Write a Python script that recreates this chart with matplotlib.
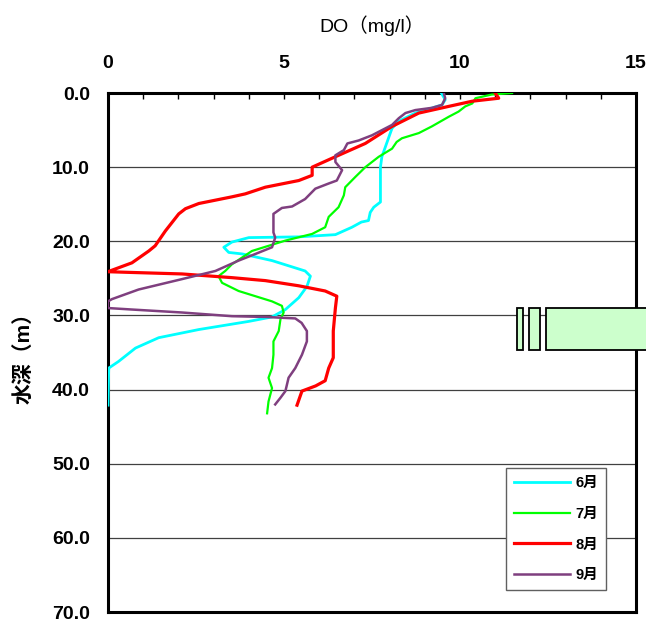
import matplotlib
matplotlib.use("Agg")
import matplotlib.pyplot as plt
from matplotlib.patches import Rectangle
from matplotlib.ticker import MultipleLocator

plt.rcParams['font.family'] = ['Liberation Sans', 'Noto Sans CJK JP', 'DejaVu Sans']

# ---- data ----
jun_depth = [0, 0.9, 1.6, 2.7, 3.8, 4.75, 5.4, 8.6, 10, 11.8, 14.7, 15.4, 16.1, 17.2, 17.4, 18.1,
             19.1, 19.4, 19.5, 20.1, 20.8, 21.5, 21.7, 22.6, 24.0, 24.7, 26.1, 27.6, 29.2, 30.2,
             30.8, 31.9, 33.0, 34.4, 36.2, 37.1, 42.1]
jun_do = [9.47, 9.58, 9.49, 8.73, 8.26, 8.07, 8.02, 7.78, 7.74, 7.74, 7.74, 7.55, 7.45, 7.40, 7.20, 6.93,
          6.46, 5.42, 4.00, 3.52, 3.29, 3.43, 3.81, 4.66, 5.60, 5.75, 5.65, 5.42, 5.04, 4.66,
          4.00, 2.58, 1.44, 0.78, 0.30, 0.02, 0.0]

jul_depth = [0, 0.2, 0.7, 1.4, 1.8, 2.5, 3.2, 4.5, 5.4, 6.1, 6.6, 7.5, 8.6, 10, 11.3, 12.7, 13.8,
             15.4, 16.7, 18.1, 19.0, 19.9, 21.3, 23.1, 24.0, 24.7, 25.6, 26.7, 28.1, 28.7, 29.6,
             30.5, 32.1, 33.5, 35.3, 37.1, 38.4, 39.8, 41.6, 43.2]
jul_do = [11.48, 10.9, 10.44, 10.35, 10.15, 9.96, 9.68, 9.2, 8.83, 8.35, 8.2, 8.07, 7.69, 7.31, 7.03,
          6.74, 6.70, 6.55, 6.27, 6.17, 5.80, 5.04, 4.09, 3.52, 3.33, 3.14, 3.24, 3.71, 4.66, 4.94,
          4.99, 4.90, 4.85, 4.70, 4.70, 4.66, 4.56, 4.66, 4.56, 4.52]

aug_depth = [0, 0.7, 1.1, 1.8, 2.7, 4.5, 6.8, 8.4, 10, 11.1, 11.8, 12.7, 13.6, 14.0, 14.9, 15.6,
             16.3, 18.6, 20.6, 21.3, 22.9, 23.9, 24.1, 24.2, 24.4, 24.9, 25.3, 26.0, 26.7, 27.4,
             29.0, 32.1, 35.7, 37.1, 38.8, 39.5, 40.2, 42.1]
aug_do = [11.0, 11.1, 10.35, 9.68, 8.83, 8.07, 7.31, 6.55, 5.80, 5.80, 5.42, 4.47, 3.90, 3.52, 2.58,
          2.20, 2.01, 1.63, 1.34, 1.16, 0.68, 0.11, 0.0, 0.68, 2.10, 3.52, 4.47, 5.42, 6.17, 6.50,
          6.46, 6.40, 6.40, 6.27, 6.17, 5.90, 5.51, 5.37]

sep_depth = [0, 0.7, 1.6, 2.0, 2.3, 2.7, 3.4, 4.3, 5.7, 6.4, 6.8, 7.7, 8.4, 9.3, 10.4, 11.8, 12.2,
             12.9, 14.3, 15.3, 15.5, 16.3, 18.8, 19.5, 20.8, 21.7, 22.6, 24.0, 25.1, 26.5, 27.8,
             28.1, 29.0, 29.2, 29.6, 30.1, 30.2, 30.4, 31.0, 32.1, 33.5, 35.3, 37.1, 38.4, 40.2,
             41.1, 42.0]
sep_do = [9.54, 9.58, 9.49, 9.20, 8.73, 8.45, 8.26, 8.07, 7.50, 7.12, 6.80, 6.70, 6.46, 6.46, 6.65,
          6.50, 6.27, 5.89, 5.60, 5.23, 4.94, 4.70, 4.70, 4.75, 4.66, 4.19, 3.71, 3.05, 2.10, 0.87,
          0.11, 0.0, 0.0, 0.68, 2.10, 3.52, 4.47, 5.32, 5.50, 5.65, 5.65, 5.51, 5.32, 5.13, 5.04,
          4.90, 4.75]

months = ['6月', '7月', '8月', '9月']
colors = ['#00ffff', '#00ff00', '#ff0000', '#7f3f7f']
widths = [2.0, 1.6, 2.3, 1.8]

x_ticks = [0, 5, 10, 15]
y_ticks = [0, 10, 20, 30, 40, 50, 60, 70]

# structure box (depth range and DO ranges)
box_top, box_bottom = 29.0, 34.6
box_x = [(11.63, 11.80), (11.95, 12.27), (12.45, 15.5)]

fig = plt.figure(figsize=(6.46, 6.24), dpi=100)
ax = fig.add_axes([0.1672, 0.0192, 0.8173, 0.8317])

series = [(jun_do, jun_depth), (jul_do, jul_depth), (aug_do, aug_depth), (sep_do, sep_depth)]
for (dv, dp), m, c, w in zip(series, months, colors, widths):
    ax.plot(dv, dp, color=c, lw=w, label=m, zorder=3)

ax.set_xlim(0, 15)
ax.set_ylim(70, 0)
ax.xaxis.tick_top()
ax.xaxis.set_label_position('top')
ax.set_xticks(x_ticks)
ax.set_xticklabels([str(v) for v in x_ticks], fontsize=14, fontweight='bold')
ax.xaxis.set_minor_locator(MultipleLocator(1))
ax.tick_params(axis='x', which='both', direction='in', length=4, width=1, pad=15, top=True, bottom=False)
ax.set_yticks(y_ticks)
ax.set_yticklabels([f"{v:.1f}" for v in y_ticks], fontsize=14, fontweight='bold')
ax.tick_params(axis='y', which='both', length=0, pad=13)
ax.grid(axis='y', color='#404040', lw=0.9, zorder=1)

for s in ax.spines.values():
    s.set_linewidth(2.2)
    s.set_color('black')

ax.set_xlabel('DO（mg/l）', fontsize=14, labelpad=17)
ax.set_ylabel('水深（m）', fontsize=15, fontweight='bold', labelpad=13)

for x0, x1 in box_x:
    r = Rectangle((x0, box_top), x1 - x0, box_bottom - box_top, facecolor='#ccffcc',
                  edgecolor='black', lw=1.3, clip_on=False, zorder=5)
    ax.add_patch(r)

leg = ax.legend(loc='upper left', bbox_to_anchor=(0.754, 0.2775), frameon=True, fancybox=False,
                edgecolor='#606060', framealpha=1, handlelength=3.8, handletextpad=0.4,
                labelspacing=1.15, borderpad=0.55, borderaxespad=0,
                prop={'weight': 'bold', 'size': 10.5})
leg.get_frame().set_linewidth(1.0)
leg.set_zorder(6)

fig.savefig('out.png', dpi=100)
